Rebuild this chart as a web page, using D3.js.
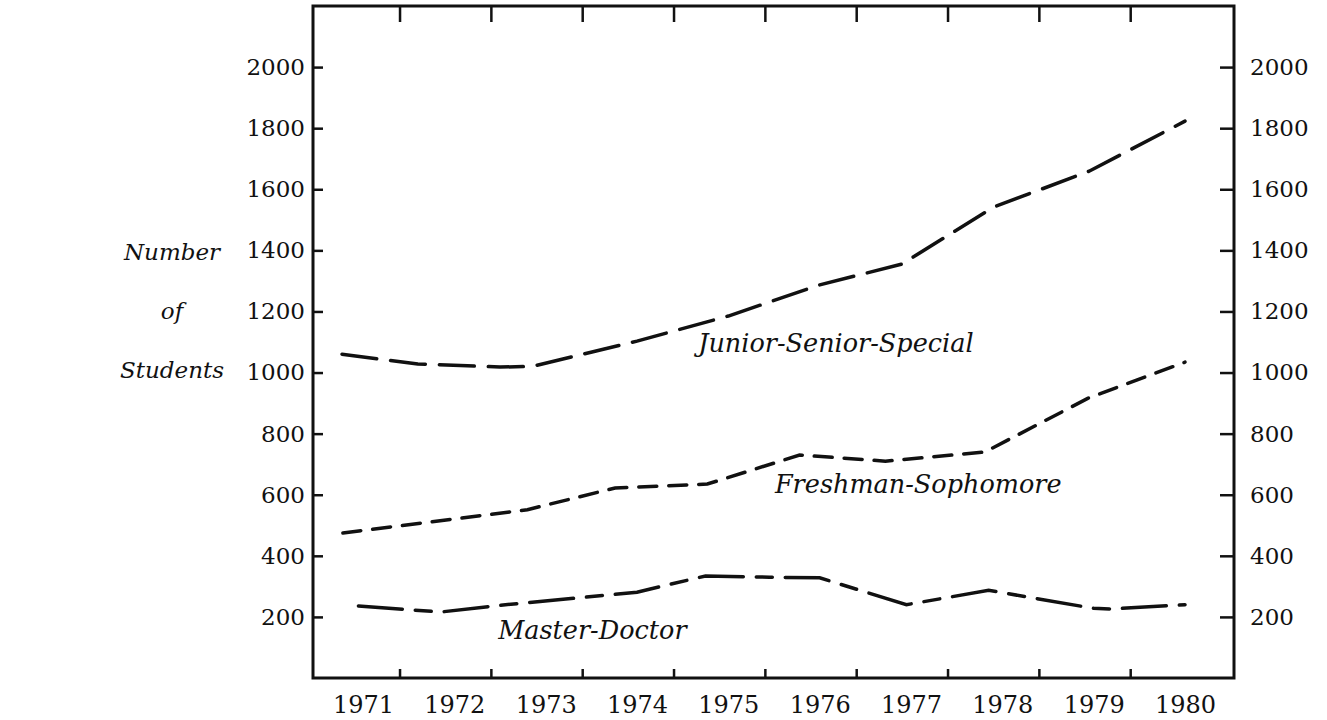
<!DOCTYPE html>
<html>
<head>
<meta charset="utf-8">
<script src="https://cdn.jsdelivr.net/npm/d3@7"></script>
<style>
  body { margin: 0; background: #fff; }
  svg text { font-family: "DejaVu Serif", serif; fill: #111; }
  .axis path.domain { display: none; }
  .axis line { stroke: #111; stroke-width: 2.5; }
  .series { fill: none; stroke: #111; stroke-width: 3.5; stroke-linecap: round; }
  .lbl { font-style: italic; }
</style>
</head>
<body>
<div id="chart"></div>
<script>
// year labels and tick values
var years = [1971, 1972, 1973, 1974, 1975, 1976, 1977, 1978, 1979, 1980];
var yearTicks = [1971.4, 1972.4, 1973.4, 1974.4, 1975.4, 1976.4, 1977.4, 1978.4, 1979.4];
var valueTicks = [200, 400, 600, 800, 1000, 1200, 1400, 1600, 1800, 2000];

// Junior-Senior-Special
var juniorYears = [1970.77, 1971.6, 1972.5, 1972.85, 1974.0, 1975.0, 1976.0, 1976.9, 1977.9, 1978.95, 1980];
var juniorValues = [1060, 1028, 1018, 1020, 1103, 1185, 1287, 1355, 1541, 1659, 1823];

// Freshman-Sophomore
var freshYears = [1970.78, 1972.8, 1973.76, 1974.77, 1975.78, 1976.72, 1977.81, 1978.94, 1980];
var freshValues = [475, 551, 622, 635, 730, 710, 740, 916, 1034];

// Master-Doctor
var masterYears = [1970.95, 1971.85, 1972.5, 1974.0, 1974.75, 1975.45, 1976.0, 1976.95, 1977.85, 1979.0, 1979.2, 1980];
var masterValues = [236, 216, 238, 281, 334, 330, 328, 240, 287, 228, 226, 240];

// series names and where their labels sit (year, value)
var seriesNames = ["Junior-Senior-Special", "Freshman-Sophomore", "Master-Doctor"];
var labelYears = [1974.67, 1975.51, 1972.48];
var labelValues = [1067, 605, 128];

var width = 1327;
var height = 720;

var frame = { left: 313, right: 1234, top: 6, bottom: 678 };

var xScale = d3.scaleLinear()
   .domain([1971, 1980])
   .range([363, 1185]);

var yScale = d3.scaleLinear()
   .domain([0, 2200])
   .range([frame.bottom, frame.top]);

var svg = d3.select("#chart")
   .append("svg")
   .attr("width", width)
   .attr("height", height);

// frame
svg.append("rect")
   .attr("x", frame.left)
   .attr("y", frame.top)
   .attr("width", frame.right - frame.left)
   .attr("height", frame.bottom - frame.top)
   .attr("fill", "none")
   .attr("stroke", "#111")
   .attr("stroke-width", 3);

// left axis, ticks pointing in
svg.append("g")
   .attr("class", "axis")
   .attr("transform", "translate(" + frame.left + ",0)")
   .call(d3.axisLeft(yScale).tickValues(valueTicks).tickSize(-10).tickPadding(8).tickFormat(d3.format("d")))
   .selectAll("text")
   .style("font-size", "23px")
   .attr("font-family", null);

// right axis
svg.append("g")
   .attr("class", "axis")
   .attr("transform", "translate(" + frame.right + ",0)")
   .call(d3.axisRight(yScale).tickValues(valueTicks).tickSize(-14).tickPadding(16).tickFormat(d3.format("d")))
   .selectAll("text")
   .style("font-size", "23px")
   .attr("font-family", null);

// top ticks
svg.append("g")
   .attr("class", "axis")
   .attr("transform", "translate(0," + frame.top + ")")
   .call(d3.axisTop(xScale).tickValues(yearTicks).tickSize(-16).tickFormat(""));

// bottom ticks
svg.append("g")
   .attr("class", "axis")
   .attr("transform", "translate(0," + frame.bottom + ")")
   .call(d3.axisBottom(xScale).tickValues(yearTicks).tickSize(-9).tickFormat(""));

// year labels
svg.append("g")
   .attr("class", "axis")
   .attr("transform", "translate(0," + frame.bottom + ")")
   .call(d3.axisBottom(xScale).tickValues(years).tickSize(0).tickPadding(18).tickFormat(d3.format("d")))
   .selectAll("text")
   .style("font-size", "24px")
   .attr("font-family", null);

// lines
var line = d3.line()
   .x(function (d) { return xScale(d[0]); })
   .y(function (d) { return yScale(d[1]); });

svg.append("path")
   .datum(d3.zip(juniorYears, juniorValues))
   .attr("class", "series")
   .attr("stroke-dasharray", "35,14")
   .attr("d", line);

svg.append("path")
   .datum(d3.zip(freshYears, freshValues))
   .attr("class", "series")
   .attr("stroke-dasharray", "18,12")
   .attr("d", line);

svg.append("path")
   .datum(d3.zip(masterYears, masterValues))
   .attr("class", "series")
   .attr("stroke-dasharray", "44,13,16,13")
   .attr("d", line);

// series labels
svg.selectAll(".lbl")
   .data(seriesNames)
   .enter().append("text")
   .attr("class", "lbl")
   .attr("x", function (d, i) { return xScale(labelYears[i]); })
   .attr("y", function (d, i) { return yScale(labelValues[i]); })
   .style("font-size", "25.5px")
   .text(function (d) { return d; });

// y title
var title = ["Number", "of", "Students"];
svg.append("g")
   .selectAll("text")
   .data(title)
   .enter().append("text")
   .attr("class", "lbl")
   .attr("x", 172)
   .attr("y", function (d, i) { return 260 + i * 59; })
   .attr("text-anchor", "middle")
   .style("font-size", "23px")
   .text(function (d) { return d; });
</script>
</body>
</html>
